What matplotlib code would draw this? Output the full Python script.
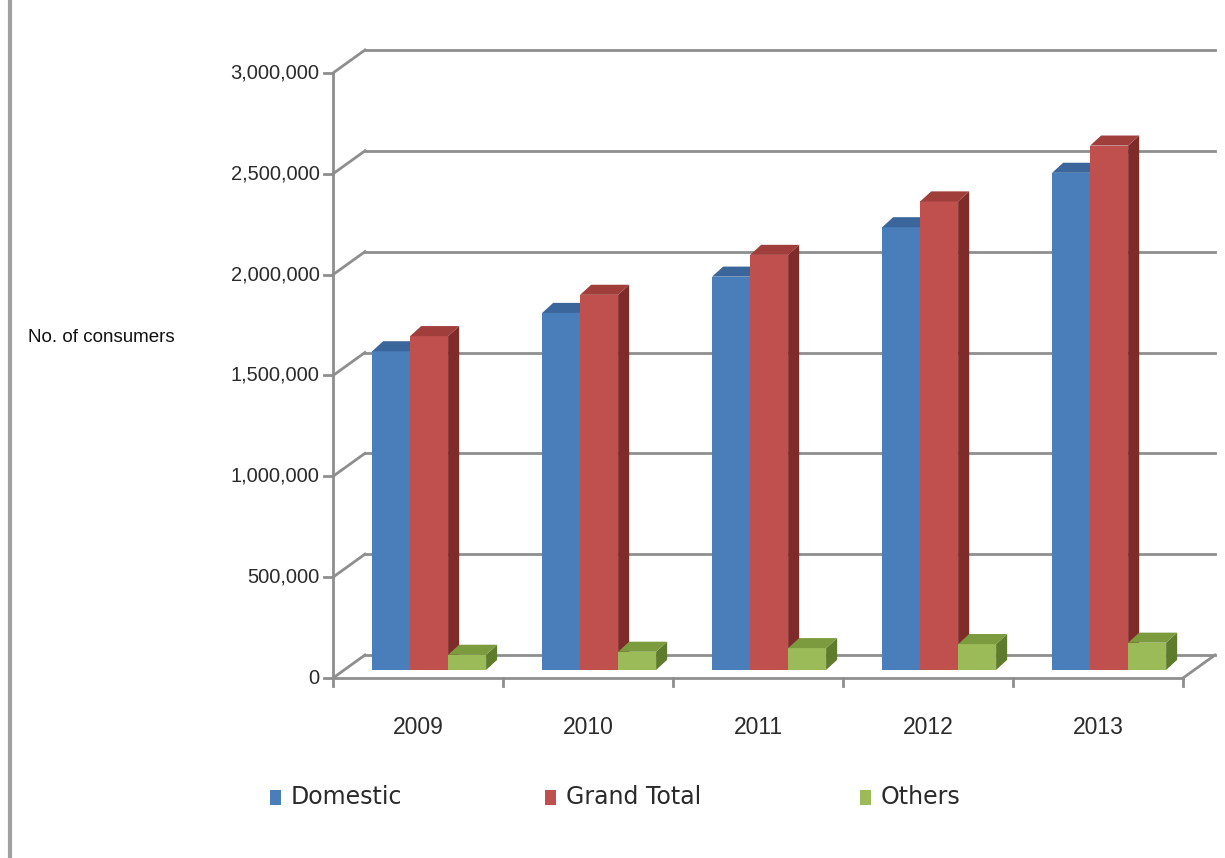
import numpy as np
import matplotlib
matplotlib.use('Agg')
import matplotlib.pyplot as plt
from matplotlib.patches import Polygon, Rectangle
from matplotlib.lines import Line2D

# number of consumers per year
years = ['2009', '2010', '2011', '2012', '2013']
domestic = [1580000, 1770000, 1950000, 2195000, 2465000]
others = [75000, 90000, 108000, 128000, 135000]
grand_total = [1655000, 1860000, 2058000, 2323000, 2600000]

series_names = ['Domestic', 'Grand Total', 'Others']
series_vals = [domestic, grand_total, others]
# front, top, side shades
shades = [('#4a7ebb', '#3b669c', '#2f5583'),
          ('#c0504d', '#a03e3b', '#7e2b29'),
          ('#9bbb59', '#7c9a3e', '#5f7c2c')]

ymax = 3000000
ystep = 500000
# oblique offsets of the chart depth (x in category units, y in values)
DX, DY = 0.188, 114000
# bars stand a little way into the floor
FX, FY = 0.065, 40000
BDX, BDY = 0.065, 50000
bw = 0.2235
g0 = 0.165

txt_c = '#2a2a2a'
fig = plt.figure(figsize=(12.25, 8.58), dpi=100)
ax = fig.add_axes([333/1225, 180/858, 882/1225, 628/858])
ax.set_xlim(0, 5 + DX)
ax.set_ylim(0, ymax + DY)
ax.axis('off')

grid_c = '#8e8e8e'
# back wall gridlines with slanted joins to the front axis
for v in np.arange(0, ymax + 1, ystep):
    ax.plot([0, DX], [v, v + DY], color=grid_c, lw=2, zorder=1, clip_on=False)
    ax.plot([DX, 5 + DX], [v + DY, v + DY], color=grid_c, lw=2, zorder=1, clip_on=False)
    ax.plot([-0.053, 0], [v, v], color=grid_c, lw=2, zorder=1, clip_on=False)
    ax.text(-0.08, v, f'{int(v):,}', ha='right', va='center', fontsize=14.5,
            family='Liberation Sans', color=txt_c)
ax.plot([0, 0], [0, ymax], color=grid_c, lw=2, zorder=1, clip_on=False)
ax.plot([0, 5], [0, 0], color=grid_c, lw=2, zorder=1, clip_on=False)
ax.plot([5, 5 + DX], [0, DY], color=grid_c, lw=2, zorder=1, clip_on=False)
for i in range(6):
    ax.plot([i, i], [0, -40000], color=grid_c, lw=2, zorder=1, clip_on=False)
for i, yr in enumerate(years):
    ax.text(i + 0.5, -245000, yr, ha='center', va='center', fontsize=16.5,
            family='Liberation Sans', color=txt_c)

# 3-D looking bars: front face, side and top
z = 2
for i in range(len(years)):
    for s, vals in enumerate(series_vals):
        v = vals[i]
        x0 = i + g0 + FX + s * bw
        y0 = FY
        front, top, side = shades[s]
        ax.add_patch(Rectangle((x0, y0), bw, v, facecolor=front,
                               edgecolor='none', zorder=z))
        ax.add_patch(Polygon([(x0 + bw, y0), (x0 + bw + BDX, y0 + BDY),
                              (x0 + bw + BDX, y0 + v + BDY), (x0 + bw, y0 + v)],
                             closed=True, facecolor=side, edgecolor='none', zorder=z))
        ax.add_patch(Polygon([(x0, y0 + v), (x0 + BDX, y0 + v + BDY),
                              (x0 + bw + BDX, y0 + v + BDY), (x0 + bw, y0 + v)],
                             closed=True, facecolor=top, edgecolor='none', zorder=z))
        z += 1

fig.text(28/1225, 1 - 337/858, 'No. of consumers', ha='left', va='center',
         fontsize=13.5, family='Liberation Sans', color='#111111')

# legend row: colour key then label
key_x = [270, 545, 860]
for k, name in enumerate(series_names):
    fig.add_artist(Rectangle((key_x[k]/1225, 1 - 805/858), 11/1225, 15/858,
                             facecolor=shades[k][0], edgecolor='none',
                             transform=fig.transFigure))
    fig.text((key_x[k] + 21)/1225, 1 - 797/858, name, ha='left', va='center',
             fontsize=17, color=txt_c)

# chart area border on the left
fig.add_artist(Line2D([10/1225, 10/1225], [0, 1], color='#a0a0a0', lw=3))

fig.savefig('out.png', dpi=100)
